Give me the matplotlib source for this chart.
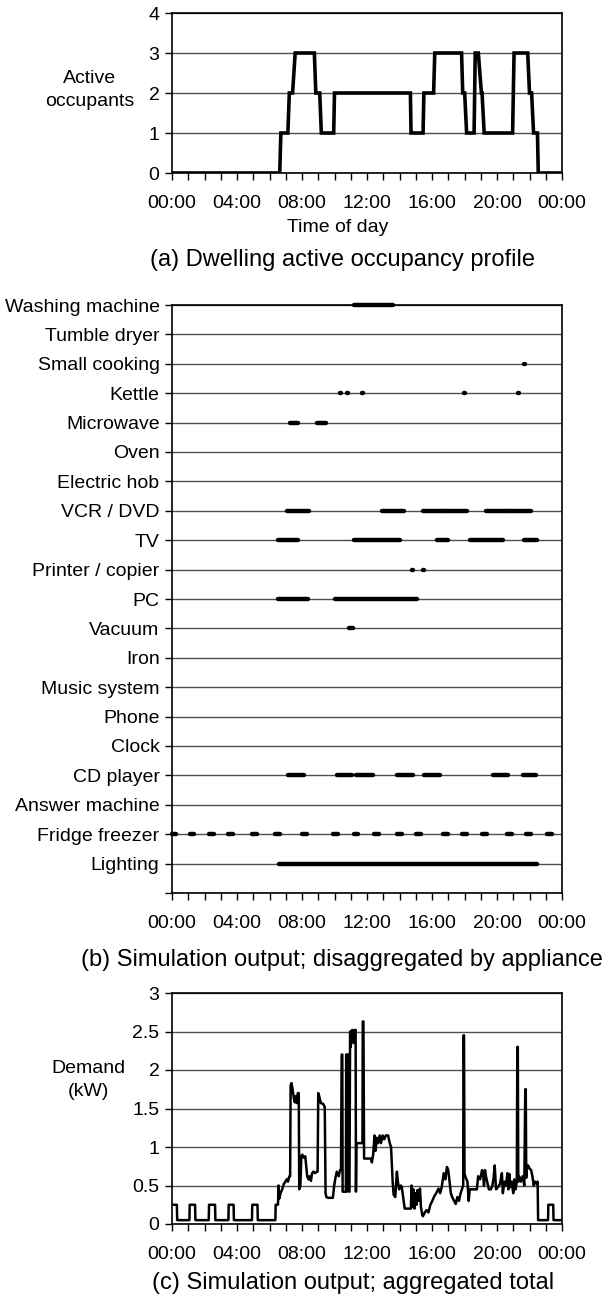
import numpy as np
import matplotlib.pyplot as plt

plt.rcParams['font.family'] = ['Liberation Sans', 'DejaVu Sans']
plt.rcParams['font.size'] = 14

# (a) active occupancy, line vertices (hour, occupants)
occ_t = [0, 6.63, 6.70, 7.13, 7.22, 7.42, 7.58, 8.76, 8.85, 9.09, 9.19, 9.95, 10.0,
         14.67, 14.71, 15.45, 15.5, 16.1, 16.17, 17.82, 17.89, 18.01, 18.13, 18.59,
         18.66, 18.85, 19.04, 19.08, 19.21, 20.96, 21.05, 21.89, 22.0, 22.13, 22.25,
         22.49, 22.54, 24]
occ_v = [0, 0, 1, 1, 2, 2, 3, 3, 2, 2, 1, 1, 2,
         2, 1, 1, 2, 2, 3, 3, 2, 2, 1, 1,
         3, 3, 2, 2, 1, 1, 3, 3, 2, 2, 1,
         1, 0, 0]

# (b) appliance on-periods (start hour, end hour), top row first
appliances = ['Washing machine', 'Tumble dryer', 'Small cooking', 'Kettle', 'Microwave',
              'Oven', 'Electric hob', 'VCR / DVD', 'TV', 'Printer / copier', 'PC',
              'Vacuum', 'Iron', 'Music system', 'Phone', 'Clock', 'CD player',
              'Answer machine', 'Fridge freezer', 'Lighting']
on_periods = [
    [(11.2, 13.6)],
    [],
    [(21.66, 21.74)],
    [(10.36, 10.42), (10.76, 10.82), (11.72, 11.78), (17.94, 18.0), (21.27, 21.33)],
    [(7.25, 7.75), (8.9, 9.45)],
    [],
    [],
    [(7.1, 8.4), (12.9, 14.3), (15.45, 16.8), (16.8, 18.15), (19.3, 20.7), (20.7, 22.1)],
    [(6.55, 7.75), (11.2, 14.0), (16.3, 17.0), (18.35, 20.35), (21.65, 22.45)],
    [(14.78, 14.84), (15.47, 15.53)],
    [(6.55, 8.35), (10.05, 15.05)],
    [(10.9, 11.15)],
    [],
    [],
    [],
    [],
    [(7.15, 8.15), (10.15, 11.1), (11.35, 12.35), (13.85, 14.8), (15.5, 16.5),
     (19.75, 20.7), (21.6, 22.4)],
    [],
    [(0.0, 0.22), (1.08, 1.38), (2.3, 2.6), (3.45, 3.75), (4.9, 5.2), (6.33, 6.63),
     (8.0, 8.3), (9.93, 10.23), (11.17, 11.47), (12.42, 12.72), (13.84, 14.14),
     (15.02, 15.32), (16.7, 17.0), (17.86, 18.16), (19.06, 19.36), (20.6, 20.9),
     (21.8, 22.1), (23.08, 23.38)],
    [(6.6, 22.48)],
]

# (c) aggregated demand, line vertices (hour, kW)
dem_t = [0.00, 0.30, 0.32, 1.07, 1.09, 1.42, 1.44, 2.26, 2.28, 2.65, 2.67, 3.47, 3.49,
         3.79, 3.81, 4.92, 4.94, 5.26, 5.28, 6.36, 6.38, 6.52, 6.56, 6.60, 6.68, 6.78,
         6.88, 6.98, 7.06, 7.14, 7.22, 7.27, 7.30, 7.35, 7.42, 7.50, 7.56, 7.62, 7.68,
         7.74, 7.80, 7.83, 7.90, 7.96, 8.02, 8.12, 8.20, 8.26, 8.32, 8.40, 8.46, 8.55,
         8.62, 8.70, 8.80, 8.92, 8.96, 9.00, 9.06, 9.16, 9.30, 9.40, 9.45, 9.50, 9.60,
         9.90, 9.98, 10.06, 10.14, 10.26, 10.34, 10.40, 10.44, 10.48, 10.50, 10.54,
         10.70, 10.72, 10.74, 10.78, 10.86, 10.88, 10.92, 10.96, 11.00, 11.08, 11.12,
         11.18, 11.26, 11.30, 11.32, 11.35, 11.40, 11.72, 11.74, 11.78, 11.82, 11.86,
         12.25, 12.30, 12.38, 12.46, 12.52, 12.60, 12.68, 12.78, 12.86, 12.96, 13.06,
         13.16, 13.30, 13.40, 13.48, 13.58, 13.64, 13.74, 13.84, 13.90, 13.98, 14.08,
         14.14, 14.32, 14.40, 14.70, 14.74, 14.82, 14.86, 14.92, 14.98, 15.04, 15.10,
         15.18, 15.26, 15.32, 15.40, 15.44, 15.56, 15.66, 15.78, 15.90, 16.02, 16.14,
         16.26, 16.40, 16.50, 16.60, 16.72, 16.82, 16.92, 17.00, 17.08, 17.16, 17.24,
         17.36, 17.46, 17.56, 17.66, 17.76, 17.86, 17.92, 17.94, 17.97, 18.00, 18.08,
         18.18, 18.26, 18.32, 18.40, 18.60, 18.76, 18.84, 18.96, 19.08, 19.14, 19.20,
         19.26, 19.32, 19.50, 19.62, 19.72, 19.80, 19.86, 19.94, 20.06, 20.18, 20.30,
         20.36, 20.46, 20.56, 20.64, 20.70, 20.76, 20.82, 20.90, 21.00, 21.06, 21.14,
         21.22, 21.25, 21.28, 21.31, 21.36, 21.46, 21.58, 21.68, 21.74, 21.77, 21.80,
         21.84, 21.92, 22.00, 22.10, 22.18, 22.26, 22.34, 22.44, 22.50, 22.53, 23.14,
         23.16, 23.46, 23.48, 24.0]
dem_v = [0.25, 0.25, 0.05, 0.05, 0.25, 0.25, 0.05, 0.05, 0.25, 0.25, 0.05, 0.05, 0.25,
         0.25, 0.05, 0.05, 0.25, 0.25, 0.05, 0.05, 0.25, 0.25, 0.50, 0.33, 0.40, 0.45,
         0.52, 0.55, 0.58, 0.55, 0.62, 0.62, 1.80, 1.83, 1.75, 1.63, 1.58, 1.66, 1.57,
         1.70, 1.70, 0.45, 0.50, 0.88, 0.90, 0.86, 0.88, 0.75, 0.62, 0.58, 0.62, 0.56,
         0.66, 0.68, 0.66, 0.68, 0.68, 1.70, 1.66, 1.57, 1.56, 1.52, 0.40, 0.35, 0.34,
         0.34, 0.50, 0.60, 0.68, 0.62, 0.70, 0.70, 2.20, 2.20, 0.42, 0.42,
         0.42, 2.20, 0.42, 2.20, 2.20, 0.42, 0.42, 2.50, 2.30, 2.52, 2.52,
         2.35, 2.52, 2.52, 0.42, 1.05, 1.05, 1.05, 2.63, 2.63, 0.85, 0.85,
         0.85, 0.80, 0.90, 1.15, 0.95, 1.12, 1.05, 1.15, 1.05, 1.15, 1.10,
         1.15, 1.15, 1.05, 1.00, 0.55, 0.38, 0.35, 0.68, 0.55, 0.45, 0.50,
         0.48, 0.20, 0.20, 0.20, 0.50, 0.22, 0.45, 0.20, 0.40, 0.25, 0.44,
         0.30, 0.46, 0.22, 0.12, 0.10, 0.15, 0.18, 0.15, 0.25, 0.30, 0.36,
         0.40, 0.46, 0.40, 0.48, 0.66, 0.58, 0.74, 0.70, 0.55, 0.40, 0.35,
         0.30, 0.26, 0.35, 0.30, 0.40, 0.46, 0.50, 2.45, 2.45, 0.65, 0.60,
         0.55, 0.30, 0.45, 0.45, 0.45, 0.45, 0.62, 0.58, 0.70, 0.66, 0.50,
         0.70, 0.62, 0.45, 0.45, 0.50, 0.62, 0.76, 0.45, 0.48, 0.52, 0.66,
         0.40, 0.55, 0.50, 0.66, 0.45, 0.65, 0.48, 0.55, 0.40, 0.58, 0.45,
         0.55, 2.30, 2.30, 0.55, 0.62, 0.55, 0.62, 0.50, 1.75, 1.75, 0.60,
         0.72, 0.76, 0.72, 0.70, 0.62, 0.50, 0.55, 0.52, 0.55, 0.05, 0.05,
         0.25, 0.25, 0.05, 0.05]

hour_labels = ['00:00', '04:00', '08:00', '12:00', '16:00', '20:00', '00:00']

W, H = 611, 1299
fig = plt.figure(figsize=(W / 100, H / 100), dpi=100)


def axes_px(left, top, right, bottom):
    return fig.add_axes([left / W, 1 - bottom / H, (right - left) / W, (bottom - top) / H])


def fig_text(x, y, s, **kw):
    fig.text(x / W, 1 - y / H, s, **kw)


def time_axis(ax):
    ax.set_xlim(0, 24)
    ax.set_xticks(np.arange(0, 25, 4))
    ax.set_xticks(np.arange(0, 25, 1), minor=True)
    ax.set_xticklabels(hour_labels)
    ax.tick_params(axis='x', which='both', direction='out', length=5, width=1, pad=11)
    ax.tick_params(axis='y', direction='out', length=5, width=1, pad=4)
    for s in ax.spines.values():
        s.set_linewidth(1.2)
        s.set_color('black')
    ax.grid(axis='y', color='#505050', linewidth=1.0)
    ax.set_axisbelow(True)


# ---- (a)
ax1 = axes_px(172, 13, 562, 173)
ax1.plot(occ_t, occ_v, color='black', linewidth=2.6, solid_joinstyle='miter')
ax1.set_ylim(0, 4)
ax1.set_yticks([0, 1, 2, 3, 4])
time_axis(ax1)
fig_text(90, 90, 'Active\noccupants', ha='center', va='center', linespacing=1.45)
fig_text(338, 228, 'Time of day', ha='center', va='center')
fig_text(150, 260, '(a) Dwelling active occupancy profile', ha='left', va='center',
         fontsize=17)

# ---- (b)
ax2 = axes_px(172, 305, 562, 893)
n = len(appliances)
for i, (name, periods) in enumerate(zip(appliances, on_periods)):
    row = n - i
    for s, e in periods:
        ax2.plot([s, e], [row, row], color='black', linewidth=3.2,
                 solid_capstyle='round', zorder=3, clip_on=False)
ax2.set_ylim(0, n)
ax2.set_yticks(np.arange(0, n + 1))
ax2.set_yticklabels([''] + appliances[::-1])
time_axis(ax2)
fig_text(81, 960, '(b) Simulation output; disaggregated by appliance',
         ha='left', va='center', fontsize=17)

# ---- (c)
ax3 = axes_px(172, 993, 562, 1224)
ax3.plot(dem_t, dem_v, color='black', linewidth=1.8)
ax3.set_ylim(0, 3)
ax3.set_yticks([0, 0.5, 1, 1.5, 2, 2.5, 3])
ax3.set_yticklabels(['0', '0.5', '1', '1.5', '2', '2.5', '3'])
time_axis(ax3)
fig_text(88, 1080, 'Demand\n(kW)', ha='center', va='center', linespacing=1.45)
fig_text(152, 1283, '(c) Simulation output; aggregated total',
         ha='left', va='center', fontsize=17)

fig.savefig('out.png', dpi=100)
